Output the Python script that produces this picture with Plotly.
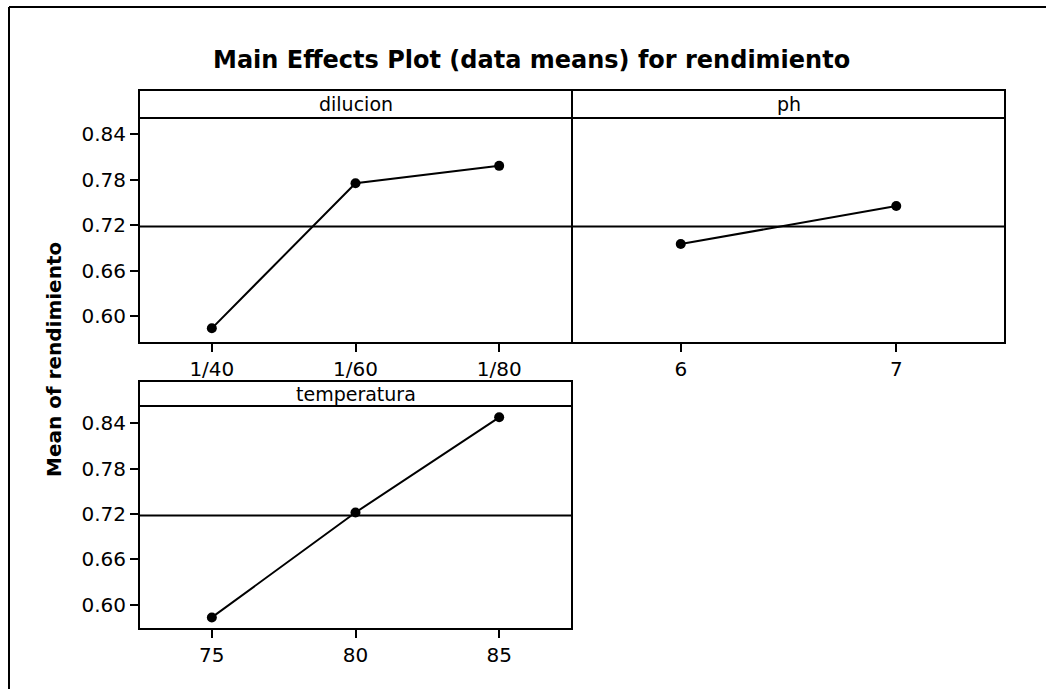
import plotly.graph_objects as go

W, H = 1046, 689

# ---- data ----
dilucion_levels = ["1/40", "1/60", "1/80"]
dilucion_means = [0.584, 0.775, 0.798]
ph_levels = [6, 7]
ph_means = [0.695, 0.745]
temp_levels = [75, 80, 85]
temp_means = [0.583, 0.722, 0.848]
grand_mean = 0.718
y_ticks = [0.60, 0.66, 0.72, 0.78, 0.84]
panel_names = ["dilucion", "ph", "temperatura"]
title_text = "Main Effects Plot (data means) for rendimiento"
ytitle_text = "Mean of rendimiento"

FONT = "DejaVu Sans"


def px(x):
    return x / W


def py(y):
    return 1 - y / H


# panel geometry in pixels: (x0, x1, strip_top, plot_top, plot_bottom)
panels = [
    (140, 571, 90, 118, 342),
    (573, 1004, 90, 118, 342),
    (140, 571, 381, 406, 628),
]

fig = go.Figure()

series = [
    (dilucion_levels, dilucion_means),
    (ph_levels, ph_means),
    (temp_levels, temp_means),
]
for i, (xs, ys) in enumerate(series):
    sfx = "" if i == 0 else str(i + 1)
    fig.add_trace(go.Scatter(
        x=xs, y=ys, mode="lines+markers",
        line=dict(color="black", width=2),
        marker=dict(color="black", size=10),
        xaxis="x" + sfx, yaxis="y" + sfx, showlegend=False,
        hoverinfo="skip",
    ))

yranges = [[0.566, 0.861], [0.566, 0.861], [0.569, 0.863]]
xranges = [[-0.5, 2.5], [5.5, 7.5], [72.5, 87.5]]
xtickvals = [None, ph_levels, temp_levels]

shapes = []
annotations = []
for i, (x0, x1, st, pt, pb) in enumerate(panels):
    sfx = "" if i == 0 else str(i + 1)
    xa = dict(
        domain=[px(x0), px(x1)], range=xranges[i], anchor="y" + sfx,
        showline=True, mirror=True, linecolor="black", linewidth=2,
        ticks="outside", ticklen=8, tickwidth=2, tickcolor="black",
        showgrid=False, zeroline=False,
        tickfont=dict(family=FONT, size=20, color="black"),
    )
    if i == 0:
        xa["type"] = "category"
        xa["categoryorder"] = "array"
        xa["categoryarray"] = dilucion_levels
    else:
        xa["tickvals"] = xtickvals[i]
    ya = dict(
        domain=[py(pb), py(pt)], range=yranges[i], anchor="x" + sfx,
        showline=True, mirror=True, linecolor="black", linewidth=2,
        showgrid=False, zeroline=False,
        tickvals=y_ticks, tickformat=".2f",
        tickfont=dict(family=FONT, size=20, color="black"),
    )
    if i == 1:
        ya["showticklabels"] = False
        ya["ticks"] = ""
    else:
        ya["ticks"] = "outside"
        ya["ticklen"] = 8
        ya["tickwidth"] = 2
        ya["tickcolor"] = "black"
    fig.update_layout({("xaxis" + sfx): xa, ("yaxis" + sfx): ya})

    # mean reference line
    shapes.append(dict(
        type="line", xref=("x" + sfx + " domain"), yref="y" + sfx,
        x0=0, x1=1, y0=grand_mean, y1=grand_mean,
        line=dict(color="black", width=2),
    ))
    # strip box
    shapes.append(dict(
        type="rect", xref="paper", yref="paper",
        x0=px(x0 - 1), x1=px(x1 + 1), y0=py(pt), y1=py(st),
        line=dict(color="black", width=2), fillcolor="white",
    ))
    annotations.append(dict(
        text=panel_names[i], xref="paper", yref="paper",
        x=px((x0 + x1) / 2), y=py((st + pt) / 2),
        xanchor="center", yanchor="middle", showarrow=False,
        font=dict(family=FONT, size=19, color="black"),
    ))

# outer frame (top and left edges visible)
shapes.append(dict(type="line", xref="paper", yref="paper",
                   x0=px(9), x1=1.0, y0=py(7), y1=py(7),
                   line=dict(color="black", width=2)))
shapes.append(dict(type="line", xref="paper", yref="paper",
                   x0=px(9), x1=px(9), y0=py(7), y1=0.0,
                   line=dict(color="black", width=2)))

annotations.append(dict(
    text="<b>" + title_text + "</b>", xref="paper", yref="paper",
    x=px(531), y=py(60), xanchor="center", yanchor="middle",
    showarrow=False, font=dict(family=FONT, size=24, color="black"),
))
annotations.append(dict(
    text="<b>" + ytitle_text + "</b>", xref="paper", yref="paper",
    x=px(54), y=py(360), xanchor="center", yanchor="middle",
    textangle=-90, showarrow=False,
    font=dict(family=FONT, size=20, color="black"),
))

fig.update_layout(
    width=W, height=H,
    margin=dict(l=0, r=0, t=0, b=0),
    paper_bgcolor="white", plot_bgcolor="white",
    shapes=shapes, annotations=annotations,
    showlegend=False,
)

fig.write_html("out.html")
